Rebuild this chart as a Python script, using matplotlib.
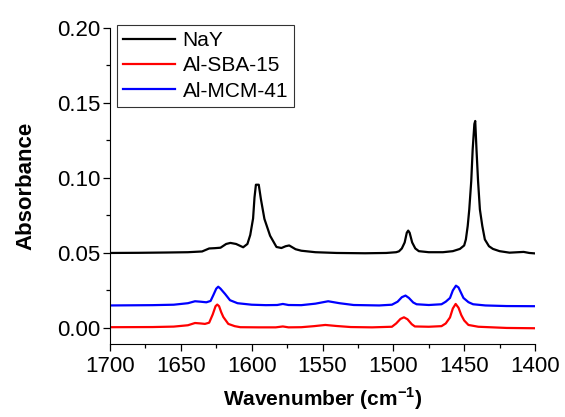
import numpy as np
import matplotlib.pyplot as plt
from matplotlib.ticker import MultipleLocator

plt.rcParams['font.family'] = ['Liberation Sans', 'DejaVu Sans']
plt.rcParams['mathtext.fontset'] = 'custom'
plt.rcParams['mathtext.rm'] = 'Liberation Sans'
plt.rcParams['mathtext.bf'] = 'Liberation Sans:bold'

# NaY spectrum (wavenumber, absorbance)
nay_wn = [1700, 1680, 1660, 1645, 1635, 1630, 1626, 1622, 1618, 1615, 1611, 1606,
          1603, 1601, 1599, 1598, 1597, 1595, 1593.5, 1591, 1587, 1582.5, 1579,
          1576, 1573.5, 1569, 1565, 1555, 1540, 1520, 1505, 1498, 1496, 1494, 1492,
          1490.5, 1489.5, 1488.5, 1486.7, 1484.5, 1482, 1475, 1465, 1458, 1453, 1450,
          1448.8, 1447.5, 1446.4, 1445, 1444, 1442.8, 1442.2, 1441.3, 1440.2, 1438.9,
          1437.2, 1435.4, 1432.5, 1429.7, 1425, 1418, 1412, 1408, 1404, 1400]
nay_abs = [0.0500, 0.0501, 0.0503, 0.0505, 0.0510, 0.0530, 0.0532, 0.0535, 0.0560,
           0.0567, 0.0560, 0.0538, 0.0560, 0.0620, 0.0730, 0.0870, 0.0955, 0.0955,
           0.0860, 0.0727, 0.0615, 0.0540, 0.0533, 0.0545, 0.0550, 0.0525, 0.0515,
           0.0505, 0.0500, 0.0498, 0.0500, 0.0505, 0.0511, 0.0530, 0.0570, 0.0635,
           0.0649, 0.0635, 0.0570, 0.0530, 0.0512, 0.0505, 0.0505, 0.0512, 0.0527,
           0.0550, 0.0590, 0.0680, 0.0790, 0.0980, 0.1190, 0.1360, 0.1380, 0.1190,
           0.0980, 0.0790, 0.0680, 0.0590, 0.0545, 0.0527, 0.0512, 0.0502, 0.0505,
           0.0507, 0.0500, 0.0497]

# Al-SBA-15 spectrum
sba_wn = [1700, 1670, 1655, 1645, 1640, 1636, 1633, 1630, 1627.5, 1625.5, 1624.3,
          1623, 1621.5, 1620, 1616.5, 1612, 1608, 1595, 1583, 1578, 1574, 1565, 1556,
          1548, 1540, 1530, 1515, 1501, 1498, 1495, 1492.5, 1490, 1487, 1484.8, 1475,
          1466, 1463, 1460, 1458, 1456, 1454, 1452, 1450, 1447, 1440, 1420, 1400]
sba_abs = [0.0005, 0.0006, 0.0009, 0.0018, 0.0033, 0.0030, 0.0027, 0.0035, 0.0090,
           0.0145, 0.0156, 0.0145, 0.0105, 0.0073, 0.0027, 0.0012, 0.0005, 0.0004,
           0.0004, 0.0010, 0.0004, 0.0005, 0.0012, 0.0020, 0.0013, 0.0006, 0.0004,
           0.0008, 0.0030, 0.0060, 0.0071, 0.0058, 0.0025, 0.0010, 0.0008, 0.0012,
           0.0030, 0.0070, 0.0130, 0.0160, 0.0135, 0.0085, 0.0050, 0.0020, 0.0008,
           0.0000, -0.0002]

# Al-MCM-41 spectrum
mcm_wn = [1700, 1670, 1655, 1645, 1640, 1636, 1632, 1629, 1627, 1625, 1623.6, 1622,
          1620, 1618.8, 1615.3, 1610, 1600, 1590, 1582, 1578, 1574, 1565, 1555, 1546,
          1538, 1528, 1510, 1501, 1497, 1494, 1491.4, 1489, 1486, 1483.6, 1475, 1466,
          1463, 1460, 1458, 1455.8, 1454, 1452, 1450.5, 1447, 1443.7, 1435, 1420, 1400]
mcm_abs = [0.0150, 0.0152, 0.0155, 0.0165, 0.0178, 0.0175, 0.0171, 0.0180, 0.0220,
           0.0262, 0.0275, 0.0262, 0.0240, 0.0227, 0.0185, 0.0165, 0.0155, 0.0152,
           0.0153, 0.0160, 0.0153, 0.0152, 0.0162, 0.0178, 0.0165, 0.0153, 0.0150,
           0.0155, 0.0175, 0.0205, 0.0216, 0.0200, 0.0170, 0.0158, 0.0153, 0.0158,
           0.0175, 0.0200, 0.0250, 0.0282, 0.0270, 0.0230, 0.0200, 0.0172, 0.0158,
           0.0150, 0.0146, 0.0145]

fig = plt.figure(figsize=(5.65, 4.17), dpi=100)
ax = fig.add_axes([110 / 565, 1 - 344 / 417, 425 / 565, 316 / 417])

ax.plot(nay_wn, nay_abs, color='black', lw=1.6, label='NaY')
ax.plot(sba_wn, sba_abs, color='red', lw=1.6, label='Al-SBA-15')
ax.plot(mcm_wn, mcm_abs, color='blue', lw=1.6, label='Al-MCM-41')

ax.set_xlim(1700, 1400)
ax.set_ylim(-0.0107, 0.20)
ax.xaxis.set_major_locator(MultipleLocator(50))
ax.xaxis.set_minor_locator(MultipleLocator(25))
ax.yaxis.set_major_locator(MultipleLocator(0.05))
ax.yaxis.set_minor_locator(MultipleLocator(0.025))
ax.set_yticks([0.0, 0.05, 0.10, 0.15, 0.20])
ax.set_yticklabels(['0.00', '0.05', '0.10', '0.15', '0.20'])

ax.spines['top'].set_visible(False)
ax.spines['right'].set_visible(False)
ax.tick_params(which='major', direction='out', length=5, width=0.9, labelsize=16, pad=2)
ax.tick_params(which='minor', direction='out', length=3, width=0.9)
ax.tick_params(axis='x', pad=4)

ax.set_xlabel(r'Wavenumber (cm$^{\mathbf{-1}}$)', fontsize=15, fontweight='bold')
ax.set_ylabel('Absorbance', fontsize=16, fontweight='bold')
ax.xaxis.set_label_coords(0.5, -0.132)
ax.yaxis.set_label_coords(-0.172, 0.5)

leg = ax.legend(loc='upper left', bbox_to_anchor=(0.0165, 1.0095), borderaxespad=0,
                fontsize=15, frameon=True, fancybox=False, handlelength=2.5,
                handletextpad=0.35, labelspacing=0.3, borderpad=0.3)
leg.get_frame().set_edgecolor('black')
leg.get_frame().set_linewidth(0.8)

fig.savefig('out.png', dpi=100)
